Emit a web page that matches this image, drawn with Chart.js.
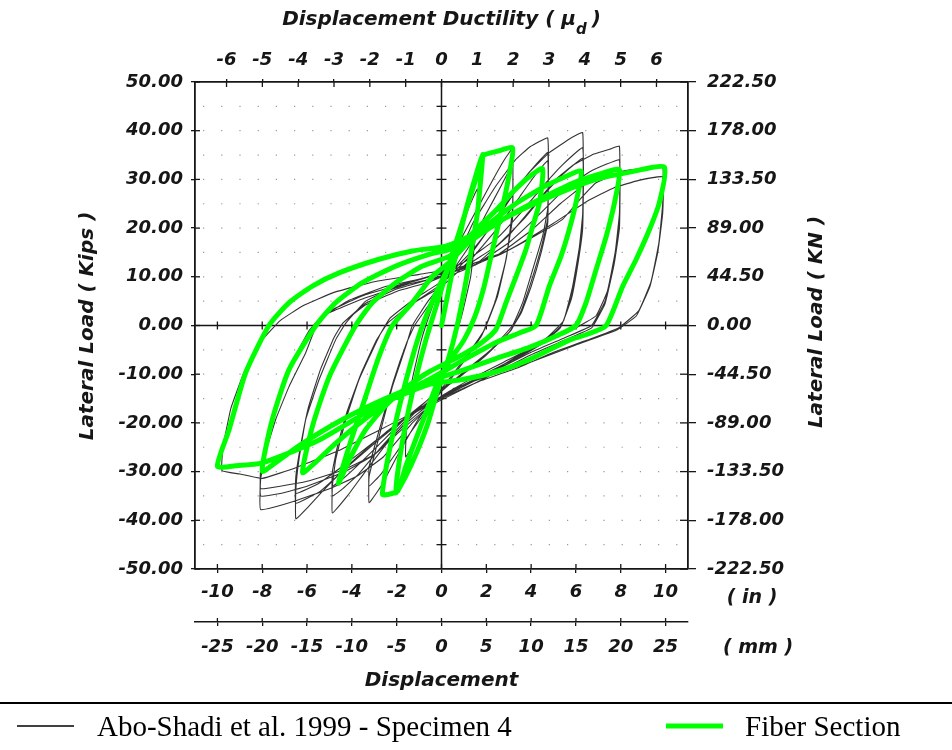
<!DOCTYPE html>
<html>
<head>
<meta charset="utf-8">
<script src="https://cdn.jsdelivr.net/npm/chart.js@4.4.1/dist/chart.umd.min.js"></script>
<style>
  html, body { margin: 0; padding: 0; background: #fff; }
  #wrap { width: 952px; height: 750px; }
</style>
</head>
<body>
<div id="wrap"><canvas id="chart" width="952" height="750"></canvas></div>
<script>
// axis ticks
const inchTicks = [-10, -8, -6, -4, -2, 0, 2, 4, 6, 8, 10];
const mmTicks = [-25, -20, -15, -10, -5, 0, 5, 10, 15, 20, 25];
const ductilityTicks = [-6, -5, -4, -3, -2, -1, 0, 1, 2, 3, 4, 5, 6];
const kipsTicks = [-50, -40, -30, -20, -10, 0, 10, 20, 30, 40, 50];
const kNLabels = ['-222.50', '-178.00', '-133.50', '-89.00', '-44.50', '0.00', '44.50', '89.00', '133.50', '178.00', '222.50'];
const fiveKipRows = [-45, -40, -35, -30, -25, -20, -15, -10, -5, 5, 10, 15, 20, 25, 30, 35, 40, 45];

// Abo-Shadi et al. 1999, specimen 4 (inches, kips)
const test1 = [[0,0],[0.4,10],[0.8,18],[1.2,24],[1.6,28],[1.55,20],[1.3,10],[0.9,2],[0.4,-5],[-0.2,-12],[-0.7,-18],[-1.1,-23],[-1.6,-27]];
const test2 = [[-1.55,-20],[-1.3,-11],[-0.9,-3],[-0.4,4],[0.2,11],[0.9,18],[1.6,24],[2.3,30],[2.8,34],[3.17,36.3],
  [3.17,24],[2.9,14],[2.5,6],[1.9,-1],[1.0,-7],[0,-13],[-1,-19],[-2,-27],[-2.7,-33],[-3.23,-36.4],
  [-3.23,-31],[-2.78,-22.7],[-2.19,-12.5],[-1.59,-4.3],[-1.3,0],[-0.6,5],[0.3,10],[1.2,16],[2.0,23],[2.7,29],[3.17,33],
  [3.17,22],[2.85,13],[2.4,5],[1.8,-2],[0.9,-8],[0,-13.5],[-1,-19.5],[-2,-26],[-2.7,-30.5],[-3.23,-33]];
const test3 = [[-3.23,-29],[-2.75,-21],[-2.15,-11.5],[-1.55,-3.5],[-1.2,0],[-0.3,6],[0.6,13],[1.4,21],[2.4,28.5],[3.3,34],[3.95,36.7],[4.74,38.5],
  [4.74,24],[4.51,18.3],[4.07,11.5],[3.62,4.7],[3.17,0],[2.2,-5],[1.0,-9.5],[0,-13.5],[-1.2,-18],[-2.4,-24],[-3.4,-30],[-4.2,-35],[-4.87,-38.5],
  [-4.87,-33],[-4.72,-27.5],[-4.27,-19.3],[-3.68,-11.1],[-2.78,-2.2],[-2.3,1.5],[-1.2,5.5],[0,9],[1.3,15],[2.5,22],[3.5,29],[4.2,33],[4.74,35.5],
  [4.74,22],[4.45,16],[4.0,9],[3.55,3],[3.1,-1],[2.0,-6],[0.8,-10.5],[-0.3,-14],[-1.5,-19],[-2.7,-25],[-3.7,-30.5],[-4.4,-33.5],[-4.87,-35]];
const test3c = [[-4.87,-30],[-4.65,-25],[-4.2,-17.5],[-3.6,-10],[-2.9,-3],[-2.4,0.5],[-1.3,4.5],[0,8],[1.3,13.5],[2.5,20],[3.5,26.5],[4.2,31],[4.74,33.8],
  [4.74,21],[4.45,15],[4.0,8],[3.55,2.5],[3.0,-1.5],[1.9,-6.5],[0.7,-11],[-0.4,-14.5],[-1.6,-19],[-2.8,-24.5],[-3.8,-29],[-4.4,-31.5],[-4.87,-33]];
const test4 = [[-4.87,-30],[-4.65,-25],[-4.2,-17.5],[-3.6,-10],[-2.9,-3],[-2.4,0.5],[-1.3,4.5],[0,8.5],[1.2,14],[2.3,21],[3.17,27],[3.92,31.5],[4.81,35.5],[5.71,38.3],[6.3,39.6],
  [6.3,23],[6.15,16],[5.85,8],[5.45,1],[4.7,-2.5],[3.5,-6],[2,-10],[0.5,-13.5],[-1,-17],[-2.5,-22],[-4,-28],[-5.3,-34],[-6,-37.5],[-6.5,-39.7],
  [-6.5,-33.7],[-6.36,-27.5],[-6.06,-19.3],[-5.46,-11.1],[-4.72,-2.9],[-4.27,0.5],[-3.38,5],[-2,8],[-0.55,10],[1,13],[2.5,18],[3.7,24],[4.6,29],[5.4,33],[6.3,36.5],
  [6.3,21],[6.1,14],[5.8,6],[5.35,0],[4.5,-3.5],[3.2,-7],[1.7,-10.5],[0.2,-14],[-1.3,-18],[-2.8,-23.5],[-4.2,-29],[-5.4,-34],[-6.5,-36.5]];
const test4c = [[-6.5,-31],[-6.3,-25],[-5.95,-17],[-5.4,-9],[-4.8,-2.5],[-4.4,0.5],[-3.4,4.2],[-2,7],[-0.5,9],[1,12],[2.5,16.5],[3.7,22],[4.6,27],[5.4,31],[6.3,34.3],
  [6.3,20],[6.1,13],[5.8,5.5],[5.3,-0.5],[4.4,-4],[3.1,-7.5],[1.6,-11],[0.1,-14.5],[-1.4,-18.5],[-2.9,-23.5],[-4.3,-28.5],[-5.5,-32.5],[-6.5,-34.5]];
const test5 = [[-6.5,-31],[-6.3,-25],[-5.95,-17],[-5.4,-9],[-4.8,-2.5],[-4.4,0.5],[-3.4,4.5],[-2,7.5],[-0.5,9.5],[1.5,12.5],[3,18.5],[4.2,25],[5.1,30],[5.9,33],[6.8,35.2],[7.5,36.2],[7.94,36.8],
  [7.94,23],[7.75,15],[7.4,7],[6.9,2],[6.0,-0.5],[4.5,-3.5],[3,-7],[1.5,-10.5],[0,-14.5],[-1.3,-20],[-2.6,-27],[-3.8,-31],[-5,-33.5],[-6.5,-36],[-8.07,-37.8],
  [-8.07,-31.6],[-7.85,-26.1],[-7.4,-19.3],[-6.8,-12.5],[-6.06,-5.6],[-5.46,1.2],[-4.2,5],[-2.5,8],[-0.5,10],[1.5,12.5],[3,17],[4.3,22.5],[5.5,28],[6.6,31.5],[7.4,33.2],[7.94,34],
  [7.94,21],[7.7,13],[7.3,5],[6.7,0],[5.5,-2.5],[4,-5.5],[2.5,-9],[1,-12.5],[-0.5,-16],[-1.8,-21],[-3,-26.5],[-4.3,-30],[-6,-33],[-7.2,-34.5],[-8.07,-35]];
const test5c = [[-8.07,-30],[-7.8,-23.5],[-7.3,-15.5],[-6.6,-7.5],[-5.9,-1.5],[-5.2,2.2],[-3.5,5.5],[-1.5,8.5],[0.5,10.5],[2.5,14.5],[4,19.5],[5.3,25],[6.4,29],[7.3,31.2],[7.94,32],
  [7.94,20],[7.7,12.5],[7.3,4.5],[6.7,-0.5],[5.5,-3],[4,-6],[2.5,-9.5],[1,-13],[-0.5,-16.5],[-1.8,-21.5],[-3,-26.5],[-4.3,-29.5],[-6,-32],[-7.2,-33],[-8.07,-33.5]];
const test6 = [[-8.07,-29.5],[-7.8,-23],[-7.3,-15],[-6.6,-7],[-5.9,-1],[-5.2,2.5],[-3.4,6.3],[-0.55,10.1],[2.43,14.2],[4.2,18.5],[5.4,21.8],[6.2,26],[6.9,29.3],[8.09,31.7],[9.13,32.4],[9.87,32.7],
  [9.87,25],[9.7,17],[9.35,9],[8.8,3],[7.9,-0.5],[6.5,-3],[5,-5.5],[3.5,-8.5],[1.68,-11.5],[0,-15],[-1.5,-18.5],[-3,-22],[-4.5,-25.5],[-6.5,-29.2],[-8,-31.4],[-9,-30.5],[-9.8,-29.8],
  [-9.75,-25],[-9.4,-17],[-8.8,-9.5],[-8,-3],[-7.2,1],[-6.2,4],[-4.8,6.8],[-3,9],[-1,10.5],[1,12],[3,15.5],[5,21],[6.5,25.5],[7.7,28.3],[8.8,29.8],[9.87,30.5],
  [9.87,23],[9.65,15],[9.3,8],[8.7,2],[7.8,-1],[6,-4],[4,-7.5],[2,-10.5],[0.5,-13]];

// fiber section model (inches, kips)
const fiber1 = [[0,0],[0.35,8],[0.7,16],[1.05,23],[1.45,29.5],[1.83,35.1],
  [1.75,30],[1.6,23],[1.35,16],[1.05,8],[0.7,0],[0.3,-7],[-0.15,-13],[-0.6,-20],[-1.1,-26],[-1.6,-31],[-2.04,-34.4]];
const fiber2 = [[-1.95,-30],[-1.75,-24],[-1.45,-17],[-1.1,-10],[-0.7,-3],[-0.3,3],[0.1,9],[0.5,15],[0.85,20],[1.25,26],[1.6,31],[1.83,34.8],[2.5,35.8],[3.17,36.5],
  [3.08,32.5],[2.85,27],[2.55,21],[2.25,15],[1.9,8],[1.5,2],[1.0,-3],[0.4,-7],[-0.2,-12],[-0.7,-18],[-1.2,-24],[-1.6,-29],[-1.95,-34],[-2.3,-34.6],[-2.63,-34.7]];
const fiber3 = [[-2.5,-30],[-2.25,-24],[-1.9,-17],[-1.45,-9],[-1.0,-2],[-0.5,4],[0.1,10],[0.8,16],[1.6,20],[2.4,23.5],[3.2,27.5],[3.9,30.5],[4.51,32.2],
  [4.37,25.2],[4.07,20.4],[3.77,15.6],[3.33,10.1],[2.88,4.7],[2.43,-0.8],[1.8,-3.5],[0.94,-6],[-0.55,-9.5],[-1.5,-12.5],[-2.5,-16.5],[-3.4,-21.5],[-4.05,-27],[-4.6,-32.4]];
const fiber4 = [[-4.12,-24.8],[-3.38,-14.5],[-2.8,-6.5],[-2.19,0],[-1.3,4.7],[-0.4,10.1],[0.34,12.9],[1.5,18.5],[3,24],[4.5,28.3],[5.5,30.5],[6.23,31.7],
  [6.0,25.2],[5.7,19.7],[5.33,14.2],[4.81,8.1],[4.22,0],[3.5,-1.5],[2.43,-3.5],[0.94,-7.2],[-0.55,-11.1],[-2,-14.5],[-3.5,-19.5],[-4.8,-24.5],[-5.6,-28],[-6.2,-30.2]];
const fiber5 = [[-5.76,-20.7],[-5.0,-10.4],[-3.83,0],[-3.08,4.7],[-2.04,8.8],[-0.85,12.2],[0.34,14.2],[1.5,18],[3,22.5],[4.5,26.2],[6,29.5],[7.2,31.3],[7.94,32],
  [7.72,25.2],[7.35,18.3],[6.9,11.5],[6.45,4.7],[6.0,0],[5.2,-2],[3.92,-4.5],[2.43,-6.8],[0.94,-9.2],[-0.55,-11.4],[-2.5,-15],[-4.5,-19.5],[-6.3,-24.5],[-7.3,-27.8],[-8,-29.9]];
const fiber6 = [[-7.55,-19.3],[-6.8,-9.0],[-5.6,0],[-4.72,4.7],[-3.53,8.8],[-2.04,12.2],[-0.55,14.6],[0.34,15.6],[2,20],[3.9,24.5],[5.4,27.5],[6.9,30],[8.4,31.5],[9.95,32.5],
  [9.72,25.2],[9.28,19.7],[8.69,13.6],[8.09,8.1],[7.35,0],[6.5,-1.8],[5.7,-3],[3.92,-7],[2.43,-9.5],[0.94,-11.1],[-0.55,-12.1],[-2.8,-16.4],[-5.5,-23.6],[-8,-28.2],[-9.2,-28.8],[-10,-28.9]];
const fiber7 = [[-9.48,-21.4],[-8.74,-9.7],[-7.7,0],[-6.8,4.7],[-5.76,8.1],[-4.57,10.8],[-2.79,13.6],[-1.3,15.3],[0.2,16.3],[1.5,18.8]];

const testPath = [test1, test2, test3, test3c, test4, test4c, test5, test5c, test6].flat().map(p => ({ x: p[0], y: p[1] }));
const fiberPath = [fiber1, fiber2, fiber3, fiber4, fiber5, fiber6, fiber7].flat().map(p => ({ x: p[0], y: p[1] }));

const INK = '#161616';
const tickFont = { family: 'DejaVu Sans', size: 18, weight: 'bold', style: 'italic' };
const titleFont = 'italic bold 20px "DejaVu Sans"';
const subFont = 'italic bold 15px "DejaVu Sans"';

function fixTicks(values) {
  return scale => { scale.ticks = values.map(v => ({ value: v })); };
}

// frame details, titles and the legend strip
const decor = {
  id: 'decor',
  beforeDatasetsDraw(chart) {
    const { ctx, chartArea: a } = chart;
    const { x, y, xTop, xMm } = chart.scales;
    const seg = (x1, y1, x2, y2) => { ctx.beginPath(); ctx.moveTo(x1, y1); ctx.lineTo(x2, y2); ctx.stroke(); };
    ctx.save();
    // dots of the printed grid
    ctx.strokeStyle = 'rgba(30,30,30,0.45)';
    ctx.lineWidth = 1.2;
    ctx.setLineDash([1.2, 17]);
    fiveKipRows.forEach(v => { const py = y.getPixelForValue(v); seg(a.left + 8, py, a.right - 4, py); });
    ctx.setLineDash([]);

    ctx.strokeStyle = INK;
    ctx.lineWidth = 1.5;
    const x0 = x.getPixelForValue(0), y0 = y.getPixelForValue(0);
    seg(x0, a.top, x0, a.bottom);
    seg(a.left, y0, a.right, y0);
    ctx.lineWidth = 1.3;
    fiveKipRows.forEach(v => { const py = y.getPixelForValue(v); seg(x0 - 5, py, x0 + 5, py); });
    inchTicks.forEach(v => { const px = x.getPixelForValue(v); seg(px, y0 - 4, px, y0 + 4); });
    // inner halves of the frame ticks
    inchTicks.forEach(v => { const px = x.getPixelForValue(v); seg(px, a.bottom, px, a.bottom - 5); });
    ductilityTicks.forEach(v => { const px = xTop.getPixelForValue(v); seg(px, a.top, px, a.top + 5); });
    kipsTicks.forEach(v => {
      const py = y.getPixelForValue(v);
      seg(a.left, py, a.left + 5, py);
      seg(a.right, py, a.right - 8, py);
    });
    mmTicks.forEach(v => { const px = xMm.getPixelForValue(v); seg(px, xMm.top, px, xMm.top - 4); });
    ctx.restore();
  },
  afterDraw(chart) {
    const { ctx, chartArea: a } = chart;
    ctx.save();
    ctx.fillStyle = INK;
    ctx.textBaseline = 'middle';
    ctx.textAlign = 'left';

    // top title with subscript
    const t1 = 'Displacement Ductility ( \u03bc', t3 = ')';
    ctx.font = titleFont;
    const w1 = ctx.measureText(t1).width;
    const w3 = ctx.measureText(t3).width;
    ctx.font = subFont;
    const w2 = ctx.measureText('d').width;
    const cx = (a.left + a.right) / 2;
    const sx = cx - (w1 + w2 + 5 + w3) / 2;
    ctx.font = titleFont;
    ctx.fillText(t1, sx, 20);
    ctx.fillText(t3, sx + w1 + w2 + 5, 20);
    ctx.font = subFont;
    ctx.fillText('d', sx + w1, 30);

    ctx.font = titleFont;
    ctx.textAlign = 'center';
    ctx.fillText('Displacement', cx, 681);
    ctx.save();
    ctx.translate(88, 326);
    ctx.rotate(-Math.PI / 2);
    ctx.fillText('Lateral Load ( Kips )', 0, 0);
    ctx.restore();
    ctx.save();
    ctx.translate(817, 322);
    ctx.rotate(-Math.PI / 2);
    ctx.fillText('Lateral Load ( KN )', 0, 0);
    ctx.restore();

    ctx.font = 'italic bold 19px "DejaVu Sans"';
    ctx.fillText('( in )', 752, 598);
    ctx.fillText('( mm )', 758, 648);

    // legend
    ctx.strokeStyle = '#000';
    ctx.lineWidth = 2;
    ctx.beginPath(); ctx.moveTo(0, 703); ctx.lineTo(952, 703); ctx.stroke();
    ctx.lineWidth = 1.6;
    ctx.beginPath(); ctx.moveTo(17, 726); ctx.lineTo(74, 726); ctx.stroke();
    ctx.strokeStyle = '#00ff00';
    ctx.lineWidth = 5;
    ctx.beginPath(); ctx.moveTo(666, 726); ctx.lineTo(723, 726); ctx.stroke();
    ctx.fillStyle = '#000';
    ctx.textAlign = 'left';
    ctx.textBaseline = 'alphabetic';
    ctx.font = '29px "Liberation Serif"';
    ctx.fillText('Abo-Shadi et al. 1999 - Specimen 4', 97, 736);
    ctx.fillText('Fiber Section', 745, 736);
    ctx.restore();
  }
};

const frameBorder = { display: true, color: INK, width: 1.8 };

new Chart(document.getElementById('chart'), {
  type: 'scatter',
  data: {
    datasets: [
      {
        label: 'Fiber Section',
        data: fiberPath,
        showLine: true,
        borderColor: '#00ff00',
        borderWidth: 5,
        pointRadius: 0,
        tension: 0.2,
        borderJoinStyle: 'round',
        borderCapStyle: 'round',
        order: 0
      },
      {
        label: 'Abo-Shadi et al. 1999 - Specimen 4',
        data: testPath,
        showLine: true,
        borderColor: '#333',
        borderWidth: 1.1,
        pointRadius: 0,
        tension: 0.1,
        order: 1
      }
    ]
  },
  options: {
    responsive: false,
    animation: false,
    devicePixelRatio: 1,
    layout: { padding: 0 },
    plugins: { legend: { display: false }, tooltip: { enabled: false } },
    scales: {
      x: {
        type: 'linear', position: 'bottom', min: -11, max: 11, weight: 0,
        afterBuildTicks: fixTicks(inchTicks),
        afterFit: s => { s.height = 53; },
        ticks: { font: tickFont, color: INK, padding: 9, maxRotation: 0, autoSkip: false },
        grid: { drawOnChartArea: false, tickLength: 4, color: INK, lineWidth: 1.3 },
        border: frameBorder
      },
      xMm: {
        type: 'linear', position: 'bottom', min: -27.5, max: 27.5, weight: 1,
        afterBuildTicks: fixTicks(mmTicks),
        afterFit: s => { s.height = 128; },
        ticks: { font: tickFont, color: INK, padding: 11, maxRotation: 0, autoSkip: false },
        grid: { drawOnChartArea: false, tickLength: 4, color: INK, lineWidth: 1.3 },
        border: { display: true, color: INK, width: 1.5 }
      },
      xTop: {
        type: 'linear', position: 'top', min: -6.88, max: 6.88,
        afterBuildTicks: fixTicks(ductilityTicks),
        afterFit: s => { s.height = 82; },
        ticks: { font: tickFont, color: INK, padding: 8, maxRotation: 0, autoSkip: false },
        grid: { drawOnChartArea: false, tickLength: 3, color: INK, lineWidth: 1.3 },
        border: frameBorder
      },
      y: {
        type: 'linear', position: 'left', min: -50, max: 50,
        afterBuildTicks: fixTicks(kipsTicks),
        afterFit: s => { s.width = 195; },
        ticks: { font: tickFont, color: INK, padding: 8, callback: v => v.toFixed(2) },
        grid: { drawOnChartArea: false, tickLength: 4, color: INK, lineWidth: 1.3 },
        border: frameBorder
      },
      y2: {
        type: 'linear', position: 'right', min: -50, max: 50,
        afterBuildTicks: fixTicks(kipsTicks),
        afterFit: s => { s.width = 264; },
        ticks: { font: tickFont, color: INK, padding: 11, callback: v => kNLabels[kipsTicks.indexOf(v)] },
        grid: { drawOnChartArea: false, tickLength: 8, color: INK, lineWidth: 1.3 },
        border: frameBorder
      }
    }
  },
  plugins: [decor]
});
</script>
</body>
</html>
